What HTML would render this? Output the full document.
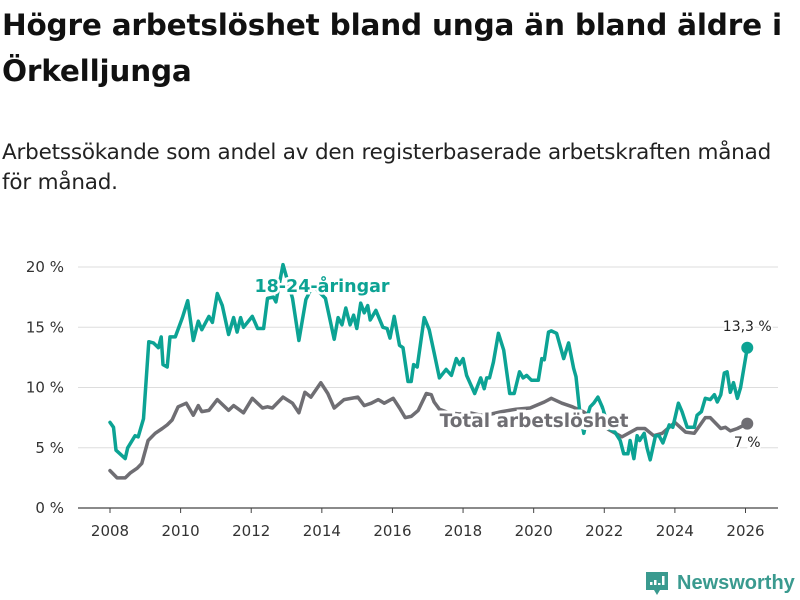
<!DOCTYPE html>
<html><head><meta charset="utf-8">
<style>
body{margin:0;background:#fff;font-family:"Liberation Sans","DejaVu Sans",sans-serif;}
#wrap{position:relative;width:800px;height:600px;overflow:hidden;}
h1{position:absolute;left:2px;top:2px;margin:0;font-size:29.5px;line-height:46px;font-weight:bold;color:#111;font-family:"DejaVu Sans",sans-serif;letter-spacing:-0.2px;width:798px;}
.sub{position:absolute;left:2px;top:138px;margin:0;font-size:21.5px;line-height:30px;color:#222;font-family:"DejaVu Sans",sans-serif;letter-spacing:-0.2px;white-space:nowrap;}
svg{position:absolute;left:0;top:0;}
</style></head><body>
<div id="wrap">
<h1>Högre arbetslöshet bland unga än bland äldre i Örkelljunga</h1>
<p class="sub">Arbetssökande som andel av den registerbaserade arbetskraften månad<br>för månad.</p>
<svg id="chart" width="800" height="600"></svg>
</div>
<script>
const yTicks=[0,5,10,15,20];
const yTickLabels=["0 %","5 %","10 %","15 %","20 %"];
const xTicks=[2008,2010,2012,2014,2016,2018,2020,2022,2024,2026];
const youthT=[2008.0,2008.1,2008.17,2008.43,2008.5,2008.71,2008.8,2008.95,2009.1,2009.23,2009.37,2009.45,2009.5,2009.62,2009.7,2009.85,2010.05,2010.2,2010.36,2010.5,2010.6,2010.8,2010.9,2011.04,2011.18,2011.36,2011.5,2011.6,2011.7,2011.78,2012.03,2012.18,2012.35,2012.46,2012.63,2012.7,2012.9,2013.17,2013.35,2013.55,2013.75,2013.9,2014.1,2014.35,2014.46,2014.57,2014.68,2014.8,2014.9,2014.99,2015.1,2015.2,2015.3,2015.37,2015.53,2015.73,2015.85,2015.93,2016.05,2016.2,2016.3,2016.44,2016.53,2016.6,2016.7,2016.9,2017.04,2017.18,2017.33,2017.52,2017.67,2017.81,2017.9,2018.0,2018.1,2018.33,2018.5,2018.6,2018.67,2018.75,2018.86,2019.0,2019.15,2019.32,2019.45,2019.6,2019.7,2019.8,2019.94,2020.13,2020.23,2020.3,2020.42,2020.5,2020.65,2020.85,2020.99,2021.13,2021.2,2021.3,2021.42,2021.52,2021.6,2021.7,2021.82,2021.94,2022.13,2022.3,2022.45,2022.55,2022.67,2022.73,2022.84,2022.93,2023.0,2023.13,2023.21,2023.3,2023.45,2023.55,2023.66,2023.84,2023.94,2024.1,2024.2,2024.35,2024.55,2024.63,2024.75,2024.86,2025.0,2025.12,2025.2,2025.3,2025.4,2025.48,2025.57,2025.66,2025.77,2025.86,2026.05];
const youthV=[7.1,6.7,4.8,4.1,5.0,6.0,5.9,7.4,13.8,13.7,13.3,14.2,11.9,11.7,14.2,14.2,15.8,17.2,13.9,15.5,14.8,15.9,15.4,17.8,16.8,14.4,15.8,14.6,15.8,15.0,15.9,14.9,14.9,17.4,17.5,17.1,20.2,17.4,13.9,17.3,18.5,18.0,17.4,14.0,15.8,15.2,16.6,15.2,16.0,14.9,17.0,16.2,16.8,15.6,16.4,15.0,14.9,14.1,15.9,13.5,13.3,10.5,10.5,11.9,11.7,15.8,14.8,12.9,10.8,11.5,11.0,12.4,11.9,12.4,11.0,9.5,10.8,9.9,10.8,10.8,12.1,14.5,13.1,9.5,9.5,11.3,10.8,11.0,10.6,10.6,12.4,12.3,14.6,14.7,14.5,12.4,13.7,11.6,10.9,8.1,6.2,7.6,8.4,8.7,9.2,8.4,6.6,6.3,5.6,4.5,4.5,5.6,4.1,6.0,5.6,6.2,5.0,4.0,6.0,6.0,5.4,6.9,6.7,8.7,8.0,6.7,6.7,7.7,8.0,9.1,9.0,9.4,8.8,9.4,11.2,11.3,9.6,10.4,9.1,10.0,13.3];
const totalT=[2008.0,2008.2,2008.43,2008.57,2008.77,2008.9,2009.08,2009.28,2009.48,2009.62,2009.76,2009.93,2010.16,2010.36,2010.5,2010.6,2010.8,2011.04,2011.36,2011.5,2011.78,2012.03,2012.32,2012.46,2012.6,2012.9,2013.17,2013.35,2013.52,2013.69,2013.97,2014.17,2014.35,2014.63,2015.02,2015.2,2015.4,2015.6,2015.77,2016.02,2016.2,2016.36,2016.53,2016.73,2016.96,2017.1,2017.18,2017.33,2017.6,2017.9,2018.2,2018.5,2018.8,2019.1,2019.5,2019.9,2020.3,2020.5,2020.8,2021.1,2021.4,2021.7,2021.9,2022.13,2022.5,2022.93,2023.15,2023.4,2023.64,2024.0,2024.3,2024.55,2024.86,2025.0,2025.3,2025.43,2025.57,2025.77,2026.05];
const totalV=[3.1,2.5,2.5,2.9,3.3,3.7,5.6,6.2,6.6,6.9,7.3,8.4,8.7,7.7,8.5,8.0,8.1,9.0,8.1,8.5,7.9,9.1,8.3,8.4,8.3,9.2,8.7,7.9,9.6,9.2,10.4,9.5,8.3,9.0,9.2,8.5,8.7,9.0,8.7,9.1,8.3,7.5,7.6,8.1,9.5,9.4,8.8,8.2,7.9,7.8,7.9,7.7,7.8,8.0,8.2,8.3,8.8,9.1,8.7,8.4,8.0,7.4,7.0,6.5,5.9,6.6,6.6,6.0,6.2,7.1,6.3,6.2,7.5,7.5,6.6,6.7,6.4,6.6,7.0];
const youthLast="13,3 %", totalLast="7 %";

const NS="http://www.w3.org/2000/svg";
const svg=document.getElementById('chart');
const X0=110,X1=745.5,Y0=508,YS=12.05;
function xs(t){return X0+(t-2008)*(X1-X0)/18;}
function ys(v){return Y0-v*YS;}
function mk(tag,attrs){const e=document.createElementNS(NS,tag);for(const k in attrs)e.setAttribute(k,attrs[k]);svg.appendChild(e);return e;}
yTicks.forEach((v,i)=>{
  const g=mk('line',{x1:78,x2:778,y1:ys(v),y2:ys(v),stroke:v===0?'#444':'#ddd','stroke-width':v===0?1.2:1});
  
  
  const t=mk('text',{x:64,y:ys(v)+5,'text-anchor':'end','font-size':15,fill:'#333','font-family':'DejaVu Sans, sans-serif'});
  t.textContent=yTickLabels[i];
  
  
});
xTicks.forEach(v=>{
  const l=mk('line',{x1:xs(v),x2:xs(v),y1:Y0,y2:Y0+5,stroke:'#444','stroke-width':1});
  
  
  const t=mk('text',{x:xs(v),y:536,'text-anchor':'middle','font-size':15,fill:'#333','font-family':'DejaVu Sans, sans-serif'});
  t.textContent=v;
  
  
});
function path(T,V,color,name){
  const d=T.map((t,i)=>(i?'L':'M')+xs(t).toFixed(1)+','+ys(V[i]).toFixed(1)).join('');
  const p=mk('path',{d:d,fill:'none',stroke:color,'stroke-width':3.5,'stroke-linejoin':'round','stroke-linecap':'round'});
  
  
  const n=T.length-1;
  const c=mk('circle',{cx:xs(T[n]),cy:ys(V[n]),r:6,fill:color});
  
  
}
const TEAL='#0ca394',GREY='#6f6e73';
path(totalT,totalV,GREY,'total-line');
path(youthT,youthV,TEAL,'youth-line');
function label(x,y,txt,color,size,weight,anchor,name,sw){
  const t=mk('text',{x:x,y:y,'text-anchor':anchor,'font-size':size,'font-weight':weight,fill:color,stroke:'#fff','stroke-width':sw,'paint-order':'stroke','font-family':'DejaVu Sans, sans-serif'});
  t.textContent=txt;
  
  
}
label(322,292,'18-24-åringar',TEAL,17.5,'bold','middle','youth-series-label',5);
label(534,427,'Total arbetslöshet',GREY,18.5,'bold','middle','total-series-label',6);
label(xs(youthT[youthT.length-1]),331,youthLast,'#222',14,'normal','middle','youth-last-value',4);
label(xs(totalT[totalT.length-1]),447,totalLast,'#222',14,'normal','middle','total-last-value',4);
const lg=mk('path',{d:'M646,572 h22 v18 h-8 l-3,5 l-3,-5 h-8 z',fill:'#3a9a8f'});


[[650,582,3],[654,580,5],[658,583,2],[662,576,9]].forEach(b=>{const r=mk('rect',{x:b[0],y:b[1],width:2.5,height:b[2],fill:'#fff'});});
const lt=mk('text',{x:677,y:589,'font-size':20,'font-weight':'bold',fill:'#3a9a8f','font-family':'Liberation Sans, sans-serif'});
lt.textContent='Newsworthy';


</script>
</body></html>
